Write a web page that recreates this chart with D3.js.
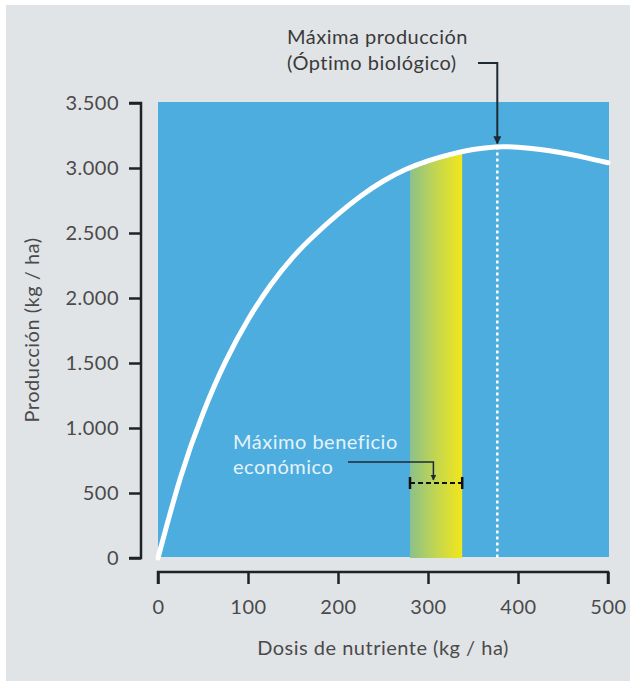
<!DOCTYPE html>
<html><head><meta charset="utf-8">
<script src="https://cdn.jsdelivr.net/npm/d3@7"></script>
<style>html,body{margin:0;padding:0;background:#fff;}svg{display:block;}</style>
</head><body>
<svg id="c" width="630" height="681"></svg>
<script>
// ---- data ----
const doses =      [0, 25, 50, 75, 100, 125, 150, 175, 200, 225, 250, 275, 300, 325, 350, 375, 400, 425, 450, 475, 500];
const production = [0, 620, 1113, 1510, 1833, 2098, 2315, 2490, 2645, 2783, 2898, 2988, 3055, 3105, 3142, 3162, 3160, 3143, 3115, 3080, 3040];
const xTicks = [0, 100, 200, 300, 400, 500];
const yTicks = [0, 500, 1000, 1500, 2000, 2500, 3000, 3500];
const economicRange = [280, 338];
const economicMarkY = 577;
const economicPoint = 306;
const biologicalOptimum = 377;
const maxProduction = 3165;
const texts = {
  yTitle: "Producción (kg / ha)",
  xTitle: "Dosis de nutriente (kg / ha)",
  topNote: ["Máxima producción", "(Óptimo biológico)"],
  econNote: ["Máximo beneficio", "económico"]
};

const svg = d3.select("#c");
const FONT = "Lato, 'Open Sans', sans-serif";
const FS = "20px", LS = "0.5px";
const locale = d3.formatLocale({decimal: ",", thousands: ".", grouping: [3], currency: ["", ""]});
const fmt = locale.format(",d");

svg.append("rect").attr("x", 6).attr("y", 5).attr("width", 624).attr("height", 676).attr("fill", "#e1e4e7");

const x = d3.scaleLinear().domain([0, 500]).range([158, 608]);
const y = d3.scaleLinear().domain([0, 3500]).range([558, 103]);

// plot background
svg.append("rect").attr("x", x(0)).attr("y", y(3500) - 1)
  .attr("width", x(500) - x(0) + 1).attr("height", y(0) - y(3500))
  .attr("fill", "#4dadde");

const defs = svg.append("defs");
const grad = defs.append("linearGradient").attr("id", "g").attr("x1", "0").attr("x2", "1").attr("y1", "0").attr("y2", "0");
grad.append("stop").attr("offset", "0").attr("stop-color", "#8cc18a");
grad.append("stop").attr("offset", "0.55").attr("stop-color", "#c8d84a");
grad.append("stop").attr("offset", "1").attr("stop-color", "#f2e61c");

const pts = doses.map((d, i) => [d, production[i]]);
const curve = d3.curveNatural;

// band clipped beneath curve
defs.append("clipPath").attr("id", "under").append("path")
  .attr("d", d3.area().x(d => x(d[0])).y0(y(0)).y1(d => y(d[1])).curve(curve)(pts));
svg.append("rect").attr("clip-path", "url(#under)")
  .attr("x", x(economicRange[0])).attr("y", y(3500))
  .attr("width", x(economicRange[1]) - x(economicRange[0])).attr("height", y(0) - y(3500))
  .attr("fill", "url(#g)");

// dashed optimum line
svg.append("line").attr("x1", x(biologicalOptimum)).attr("x2", x(biologicalOptimum))
  .attr("y1", y(maxProduction)).attr("y2", y(0))
  .attr("stroke", "#ffffff").attr("stroke-width", 2.5).attr("stroke-dasharray", "3,3");

// curve
svg.append("path").attr("d", d3.line().x(d => x(d[0])).y(d => y(d[1])).curve(curve)(pts))
  .attr("fill", "none").attr("stroke", "#fff").attr("stroke-width", 5).attr("stroke-linecap", "round");

// axes
const yAxis = d3.axisLeft(y).tickValues(yTicks).tickFormat(fmt).tickSize(12).tickPadding(10);
const gy = svg.append("g").attr("transform", "translate(141,0)").call(yAxis);
const xAxis = d3.axisBottom(x).tickValues(xTicks).tickFormat(d3.format("d")).tickSize(12).tickPadding(16);
const gx = svg.append("g").attr("transform", "translate(0,572)").call(xAxis);
[gx, gy].forEach(g => {
  g.select(".domain").attr("stroke", "#222").attr("stroke-width", 2.5);
  g.selectAll(".tick line").attr("stroke", "#222").attr("stroke-width", 2.5);
  g.selectAll(".tick text").attr("fill", "#4a4a4a").style("font-family", FONT)
    .style("font-size", FS).style("letter-spacing", LS);
});
gx.select(".domain").attr("d", `M${x(0)},12V0H${x(500)}V12`);
gy.select(".domain").attr("d", `M-12,${y(3500)}H0V${y(0)}H-12`);

function label(xp, yp, t, fill, anchor) {
  return svg.append("text").attr("x", xp).attr("y", yp).attr("text-anchor", anchor || "start")
    .attr("fill", fill).style("font-family", FONT).style("font-size", FS).style("letter-spacing", LS).text(t);
}

// titles
label(383, 655, texts.xTitle, "#4a4a4a", "middle");
label(0, 0, texts.yTitle, "#4a4a4a", "middle").attr("transform", "translate(39,330) rotate(-90)");

// top annotation
label(287, 44, texts.topNote[0], "#3a3a3a");
label(287, 70, texts.topNote[1], "#3a3a3a");
defs.append("marker").attr("id", "ah").attr("viewBox", "0 0 10 10").attr("refX", 9).attr("refY", 5)
  .attr("markerWidth", 4).attr("markerHeight", 4).attr("orient", "auto")
  .append("path").attr("d", "M0,0L10,5L0,10Z").attr("fill", "#1e2a35");
svg.append("path").attr("d", `M478,63H${x(biologicalOptimum)}V${y(maxProduction) - 3}`)
  .attr("fill", "none").attr("stroke", "#1e2a35").attr("stroke-width", 2).attr("marker-end", "url(#ah)");

// economic annotation
label(233, 449, texts.econNote[0], "#e6f3fa");
label(233, 474, texts.econNote[1], "#e6f3fa");
svg.append("path").attr("d", `M348,462H${x(economicPoint)}V${y(economicMarkY) - 3}`)
  .attr("fill", "none").attr("stroke", "#1e2a35").attr("stroke-width", 1.5).attr("marker-end", "url(#ah)");
const by = y(economicMarkY);
svg.append("line").attr("x1", x(economicRange[0])).attr("x2", x(economicRange[1])).attr("y1", by).attr("y2", by)
  .attr("stroke", "#111").attr("stroke-width", 2.2).attr("stroke-dasharray", "5,3");
[economicRange[0], economicRange[1]].forEach(v => {
  svg.append("line").attr("x1", x(v)).attr("x2", x(v)).attr("y1", by - 6).attr("y2", by + 6)
    .attr("stroke", "#111").attr("stroke-width", 2.5);
});
</script>
</body></html>
